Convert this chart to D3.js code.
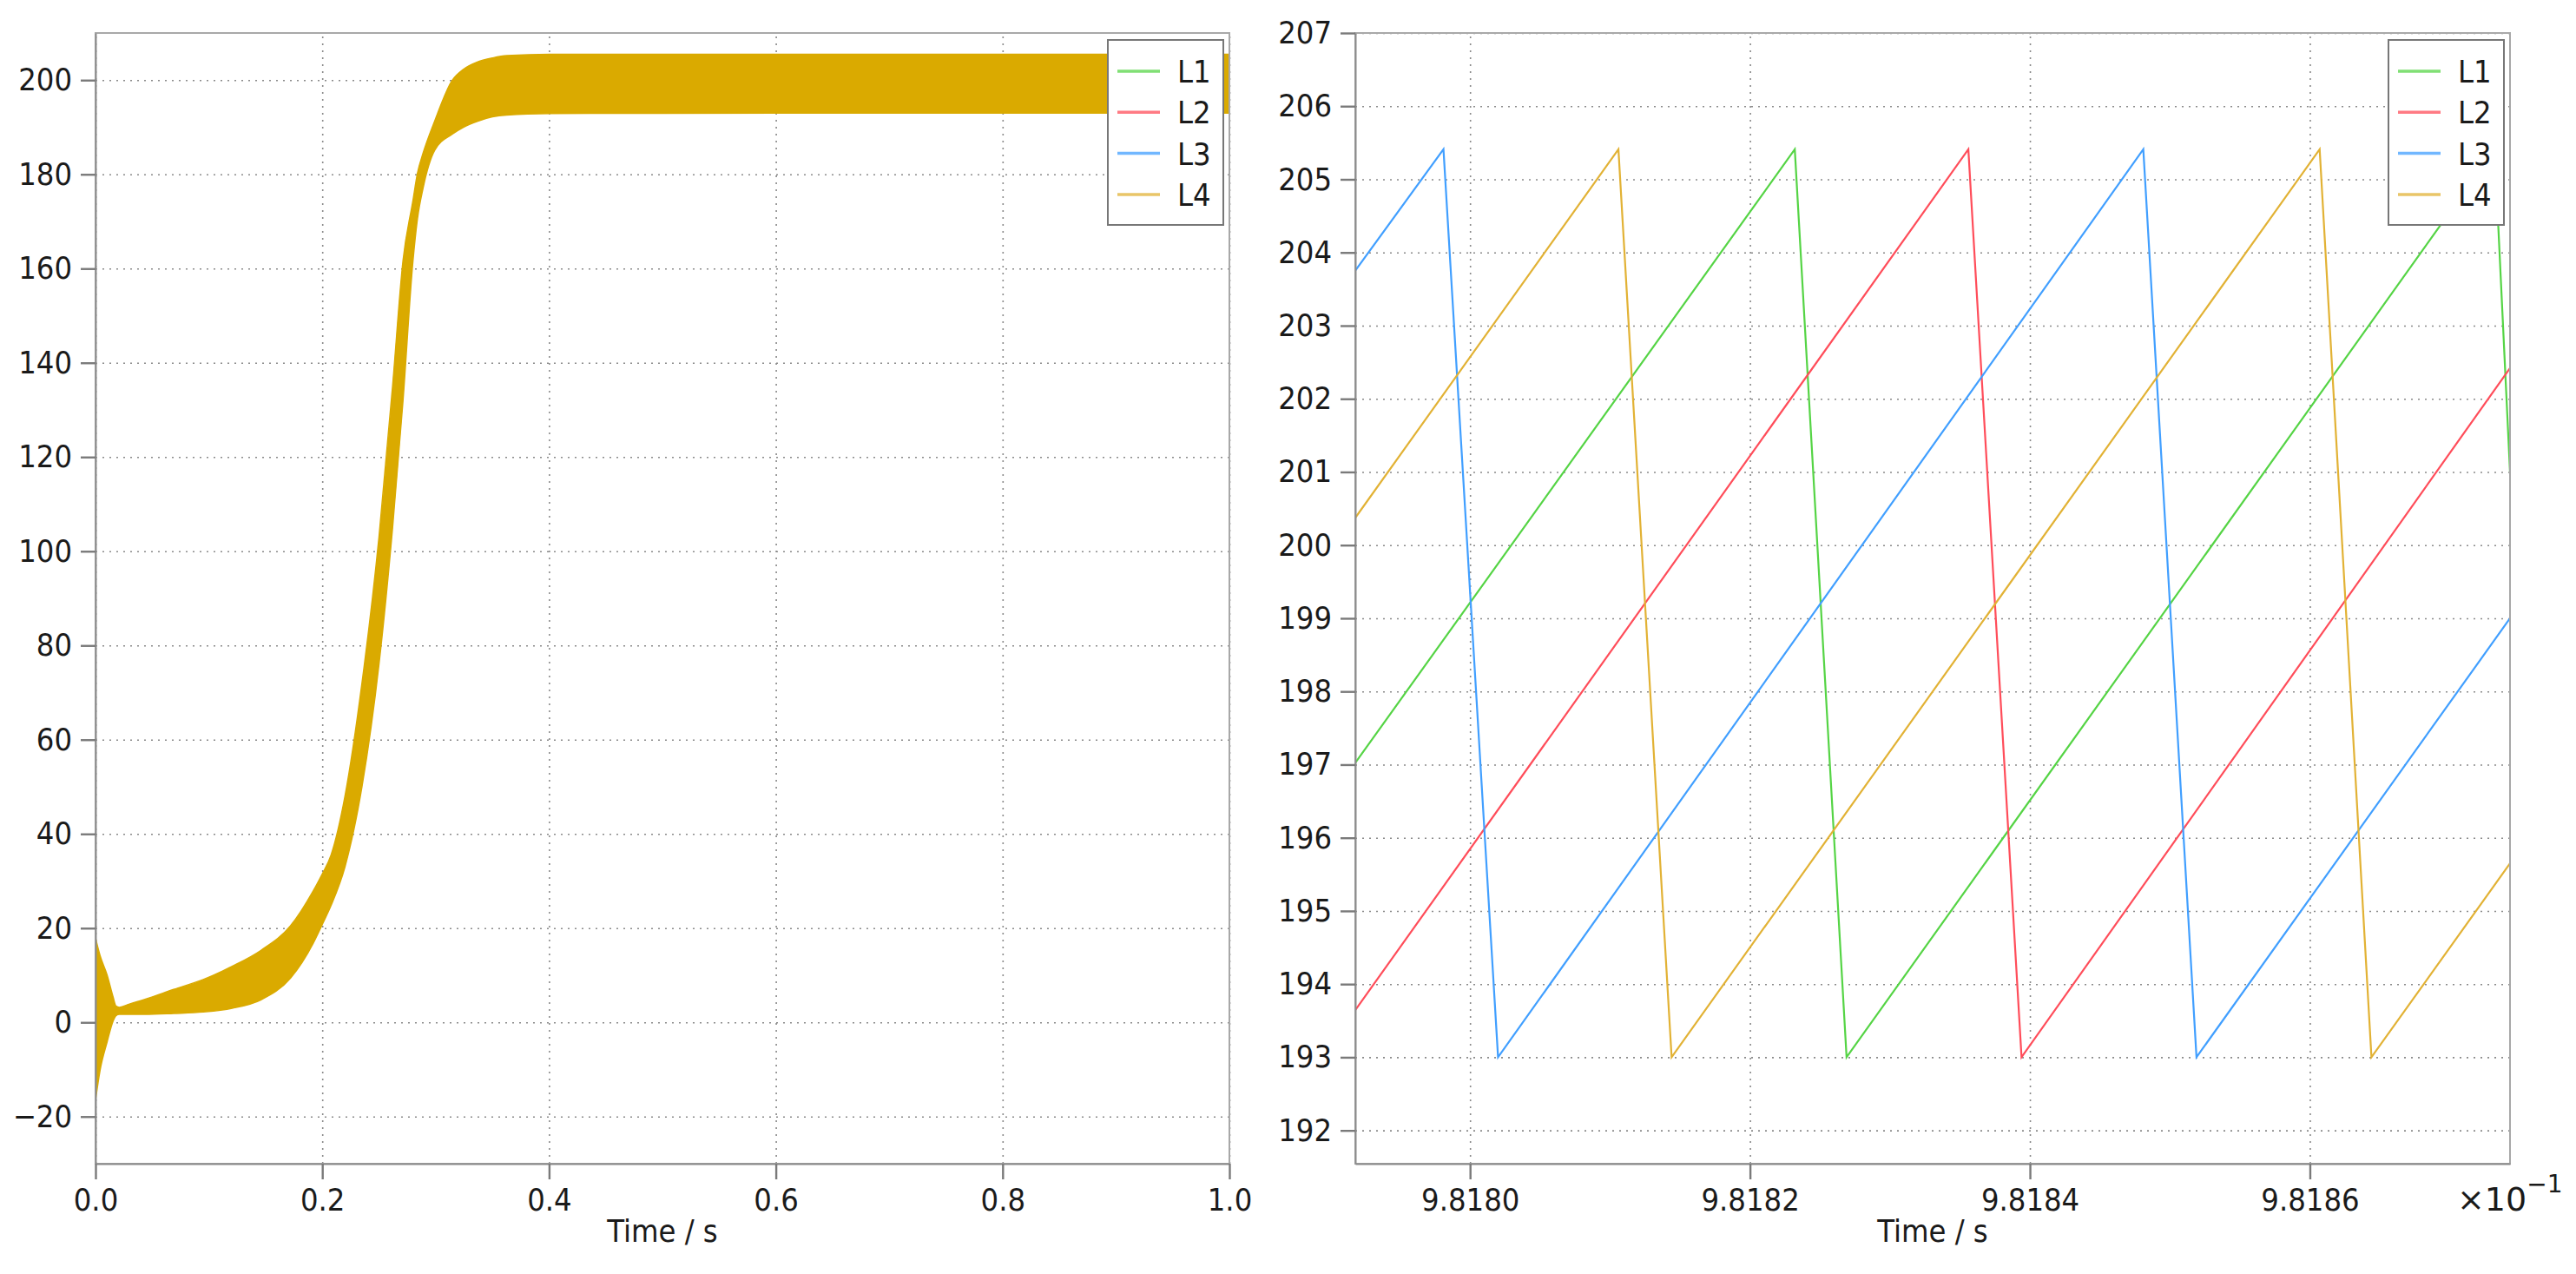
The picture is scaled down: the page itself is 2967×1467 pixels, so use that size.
<!DOCTYPE html>
<html>
<head>
<meta charset="utf-8">
<script src="https://cdn.jsdelivr.net/npm/d3@7"></script>
<style>
  body { margin: 0; background: #fff; }
  text { font-family: "DejaVu Sans Condensed", "Liberation Sans", sans-serif; fill: #1a1a1a; }
</style>
</head>
<body>
<div id="chart-container"></div>
<script>
const width = 2967;
const height = 1467;

// ---- left panel: whole run, drawn as the envelope of the four phases
const bandTime = [0, 0.004, 0.0103, 0.0154, 0.018, 0.021, 0.03, 0.0436, 0.069, 0.095, 0.1205, 0.146,
    0.172, 0.192, 0.2, 0.2077, 0.22, 0.235, 0.25, 0.262, 0.2712, 0.28, 0.2839, 0.2889, 0.2991, 0.3144,
    0.3245, 0.3372, 0.35, 0.3626, 0.4008, 0.6, 0.8, 1.0];
const bandUpper = [17.9, 14.2, 10.0, 5.5, 3.5, 3.2, 3.9, 4.9, 7.0, 9.1, 11.9, 15.3,
    20.5, 27.9, 31.5, 35.5, 48, 72, 103, 135, 161.7, 174.5, 180.2, 184.5, 191.3, 199.9,
    202.3, 203.9, 204.7, 205.2, 205.5, 205.5, 205.5, 205.5];
const bandLower = [-16.5, -10.2, -4.1, 0.2, 1.4, 1.7, 1.7, 1.7, 1.9, 2.2, 3.0, 4.8,
    9.4, 16.8, 20.8, 24.8, 33, 50, 76, 105, 132, 161.7, 170.5, 177.1, 185.1, 188.5,
    190.0, 191.3, 192.2, 192.6, 192.9, 193.0, 193.0, 193.0];

const leftXTicks = [0, 0.2, 0.4, 0.6, 0.8, 1.0];
const leftYTicks = [-20, 0, 20, 40, 60, 80, 100, 120, 140, 160, 180, 200];

// ---- right panel: zoomed window, time in units of 1e-1 s
const l1Time = [9.817916, 9.818232, 9.818269, 9.818732, 9.818743];
const l1Value = [196.97, 205.41, 193.0, 205.41, 201.0];
const l2Time = [9.817916, 9.818356, 9.818394, 9.818743];
const l2Value = [193.59, 205.41, 193.0, 202.42];
const l3Time = [9.817916, 9.817981, 9.818020, 9.818481, 9.818519, 9.818743];
const l3Value = [203.7, 205.41, 193.0, 205.41, 193.0, 199.0];
const l4Time = [9.817916, 9.818106, 9.818144, 9.818607, 9.818644, 9.818743];
const l4Value = [200.32, 205.41, 193.0, 205.41, 193.0, 195.65];

const rightXTicks = [9.8180, 9.8182, 9.8184, 9.8186];
const rightYTicks = [192, 193, 194, 195, 196, 197, 198, 199, 200, 201, 202, 203, 204, 205, 206, 207];

const seriesNames = ["L1", "L2", "L3", "L4"];
const seriesColors = ["#55d445", "#ff4d5a", "#419fff", "#e2b235"];
const bandColor = "#daaa00";

const xAxisName = "Time / s";

var svg = d3.select("#chart-container")
    .append("svg")
    .attr("width", width)
    .attr("height", height);

var defs = svg.append("defs");

// panel frames
const leftBox = { x0: 110, x1: 1416, y0: 38, y1: 1340 };
const rightBox = { x0: 1561, x1: 2891, y0: 38, y1: 1340 };

var xLeft = d3.scaleLinear().domain([0, 1]).range([leftBox.x0, leftBox.x1]);
var yLeft = d3.scaleLinear().domain([-30, 210]).range([leftBox.y1, leftBox.y0]);
var xRight = d3.scaleLinear().domain([9.817918, 9.818743]).range([rightBox.x0, rightBox.x1]);
var yRight = d3.scaleLinear().domain([191.545, 207]).range([rightBox.y1, rightBox.y0]);

function drawFrame(box, xScale, yScale, xTicks, yTicks, id) {
    const g = svg.append("g");

    // dotted grid
    g.append("g")
        .attr("transform", `translate(0, ${box.y1})`)
        .call(d3.axisBottom(xScale).tickValues(xTicks).tickSize(-(box.y1 - box.y0)).tickFormat(""))
        .call(s => s.select(".domain").remove())
        .selectAll(".tick line")
        .attr("stroke", "#8a8a8a")
        .attr("stroke-width", 1.6)
        .attr("stroke-dasharray", "2,6");

    g.append("g")
        .attr("transform", `translate(${box.x0}, 0)`)
        .call(d3.axisLeft(yScale).tickValues(yTicks).tickSize(-(box.x1 - box.x0)).tickFormat(""))
        .call(s => s.select(".domain").remove())
        .selectAll(".tick line")
        .attr("stroke", "#8a8a8a")
        .attr("stroke-width", 1.6)
        .attr("stroke-dasharray", "2,6");

    // clip for the data
    defs.append("clipPath")
        .attr("id", id)
        .append("rect")
        .attr("x", box.x0)
        .attr("y", box.y0)
        .attr("width", box.x1 - box.x0)
        .attr("height", box.y1 - box.y0);

    return g;
}

function drawAxes(box, xScale, yScale, xTicks, yTicks, xFmt, yFmt) {
    svg.append("rect")
        .attr("x", box.x0)
        .attr("y", box.y0)
        .attr("width", box.x1 - box.x0)
        .attr("height", box.y1 - box.y0)
        .attr("fill", "none")
        .attr("stroke", "#a8a8a8")
        .attr("stroke-width", 2);

    var xAx = svg.append("g")
        .attr("transform", `translate(0, ${box.y1})`)
        .call(d3.axisBottom(xScale).tickValues(xTicks).tickFormat(xFmt)
            .tickSize(18).tickSizeOuter(0).tickPadding(10));
    var yAx = svg.append("g")
        .attr("transform", `translate(${box.x0}, 0)`)
        .call(d3.axisLeft(yScale).tickValues(yTicks).tickFormat(yFmt)
            .tickSize(17).tickSizeOuter(0).tickPadding(10));

    [xAx, yAx].forEach(a => {
        a.select(".domain").attr("stroke", "#8c8c8c").attr("stroke-width", 2);
        a.selectAll(".tick line").attr("stroke", "#7a7a7a").attr("stroke-width", 2.4);
        a.selectAll("text")
            .attr("fill", "#1a1a1a")
            .style("font-size", "36px")
            .style("font-family", "'DejaVu Sans Condensed', 'Liberation Sans', sans-serif");
    });

    svg.append("text")
        .attr("x", (box.x0 + box.x1) / 2)
        .attr("y", 1430)
        .attr("text-anchor", "middle")
        .style("font-size", "36px")
        .text(xAxisName);
}

function drawLegend(box) {
    const lx = box.x1 - 140;
    const ly = box.y0 + 8;
    const lg = svg.append("g").attr("transform", `translate(${lx}, ${ly})`);
    lg.append("rect")
        .attr("width", 133)
        .attr("height", 213)
        .attr("fill", "#fff")
        .attr("stroke", "#777")
        .attr("stroke-width", 2);
    seriesNames.forEach((name, i) => {
        const yy = 36 + i * 47.3;
        lg.append("line")
            .attr("x1", 11).attr("x2", 60)
            .attr("y1", yy).attr("y2", yy)
            .attr("stroke", seriesColors[i])
            .attr("stroke-opacity", 0.75)
            .attr("stroke-width", 3.5);
        lg.append("text")
            .attr("x", 80)
            .attr("y", yy)
            .attr("dy", "0.36em")
            .style("font-size", "36px")
            .text(name);
    });
}

// ---- left panel
var fmtLeftX = d3.format(".1f");
var fmtY = d3.format("d");

drawFrame(leftBox, xLeft, yLeft, leftXTicks, leftYTicks, "clip-left");

var bandData = bandTime.map((t, i) => ({ t: t, lo: bandLower[i], hi: bandUpper[i] }));
var bandArea = d3.area()
    .curve(d3.curveMonotoneX)
    .x(d => xLeft(d.t))
    .y0(d => yLeft(d.lo))
    .y1(d => yLeft(d.hi));

svg.append("g")
    .attr("clip-path", "url(#clip-left)")
    .append("path")
    .datum(bandData)
    .attr("fill", bandColor)
    .attr("stroke", bandColor)
    .attr("stroke-width", 1.5)
    .attr("d", bandArea);

drawAxes(leftBox, xLeft, yLeft, leftXTicks, leftYTicks, fmtLeftX, fmtY);
drawLegend(leftBox);

// ---- right panel
var fmtRightX = d3.format(".4f");
drawFrame(rightBox, xRight, yRight, rightXTicks, rightYTicks, "clip-right");

var zoomSeries = [
    { t: l1Time, v: l1Value },
    { t: l2Time, v: l2Value },
    { t: l3Time, v: l3Value },
    { t: l4Time, v: l4Value }
];

var phaseLine = d3.line()
    .x(d => xRight(d[0]))
    .y(d => yRight(d[1]));

var chartArea = svg.append("g").attr("clip-path", "url(#clip-right)");
zoomSeries.forEach((s, i) => {
    chartArea.append("path")
        .datum(s.t.map((t, j) => [t, s.v[j]]))
        .attr("fill", "none")
        .attr("stroke", seriesColors[i])
        .attr("stroke-width", 2.2)
        .attr("d", phaseLine);
});

drawAxes(rightBox, xRight, yRight, rightXTicks, rightYTicks, fmtRightX, fmtY);
drawLegend(rightBox);

// x10^-1 multiplier
var mult = svg.append("text")
    .attr("x", 2830)
    .attr("y", 1394)
    .style("font-size", "38px")
    .style("font-family", "'DejaVu Sans', sans-serif");
mult.append("tspan").text("\u00d710");
mult.append("tspan")
    .attr("dy", -21)
    .style("font-size", "28px")
    .text("\u22121");
</script>
</body>
</html>
